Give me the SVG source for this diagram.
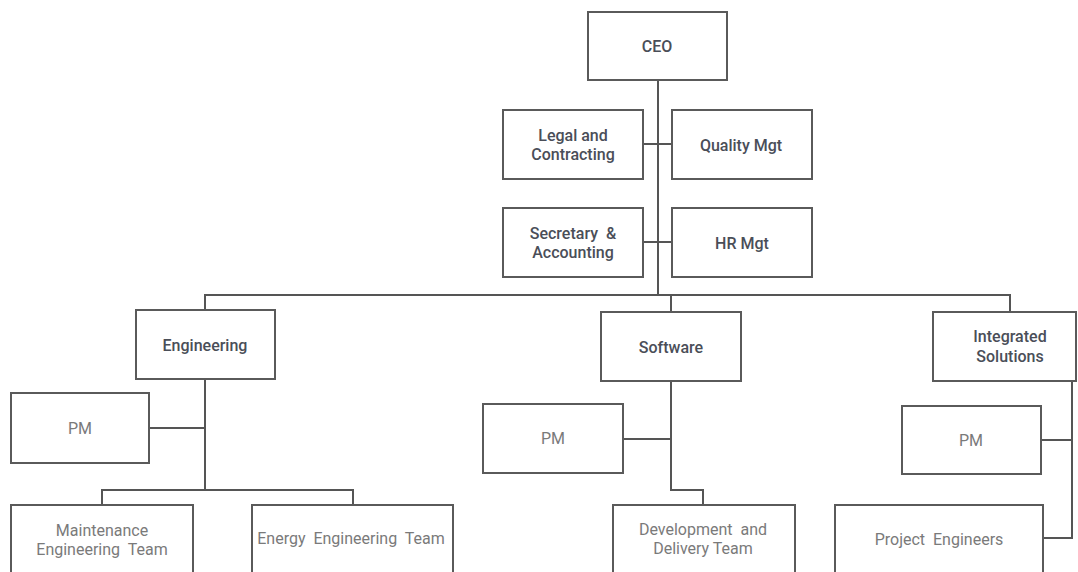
<svg xmlns="http://www.w3.org/2000/svg" width="1078" height="572" viewBox="0 0 1078 572">
  <style>
    .box { fill: #ffffff; stroke: #5a5a5a; stroke-width: 2; }
    .link { fill: none; stroke: #555555; stroke-width: 2; }
    .head { font-family: Roboto, "Liberation Sans", sans-serif; font-size: 16px; font-weight: 500; fill: #4a4e58; text-anchor: middle; dominant-baseline: central; }
    .unit { font-family: Roboto, "Liberation Sans", sans-serif; font-size: 16px; font-weight: 400; fill: #7a7a7a; text-anchor: middle; dominant-baseline: central; }
  </style>
  <rect width="1078" height="572" fill="#ffffff"/>

  <!-- connectors -->
  <g id="connectors" class="link">
    <!-- main trunk from CEO -->
    <path d="M658 80 V295"/>
    <path d="M643 144 H672"/>
    <path d="M643 242 H672"/>
    <!-- division bus -->
    <path d="M205 310 V295 H1010 V312"/>
    <path d="M671 295 V312"/>
    <!-- Engineering branch -->
    <path d="M205 379 V490"/>
    <path d="M149 428 H205"/>
    <path d="M102 505 V490 H353 V505"/>
    <!-- Software branch -->
    <path d="M671 381 V490 H703 V505"/>
    <path d="M623 439 H671"/>
    <!-- Integrated Solutions branch -->
    <path d="M1072 381 V538 H1043"/>
    <path d="M1041 440 H1072"/>
  </g>

  <g id="ceo">
    <rect class="box" x="588" y="12" width="139" height="68"/>
    <text class="head" x="657" y="46">CEO</text>
  </g>
  <g id="legal">
    <rect class="box" x="503" y="110" width="140" height="69"/>
    <text class="head" x="573" y="135">Legal and</text>
    <text class="head" x="573" y="154">Contracting</text>
  </g>
  <g id="quality">
    <rect class="box" x="672" y="110" width="140" height="69"/>
    <text class="head" x="741" y="145">Quality Mgt</text>
  </g>
  <g id="secretary">
    <rect class="box" x="503" y="208" width="140" height="69"/>
    <text class="head" x="573" y="233" xml:space="preserve">Secretary  &amp;</text>
    <text class="head" x="573" y="252">Accounting</text>
  </g>
  <g id="hr">
    <rect class="box" x="672" y="208" width="140" height="69"/>
    <text class="head" x="742" y="243">HR Mgt</text>
  </g>

  <g id="engineering">
    <rect class="box" x="136" y="310" width="139" height="69"/>
    <text class="head" x="205" y="345">Engineering</text>
  </g>
  <g id="software">
    <rect class="box" x="601" y="312" width="140" height="69"/>
    <text class="head" x="671" y="347">Software</text>
  </g>
  <g id="integrated">
    <rect class="box" x="933" y="312" width="143" height="69"/>
    <text class="head" x="1010" y="336">Integrated</text>
    <text class="head" x="1010" y="356">Solutions</text>
  </g>

  <g id="pm-engineering">
    <rect class="box" x="11" y="393" width="138" height="70"/>
    <text class="unit" x="80" y="428">PM</text>
  </g>
  <g id="pm-software">
    <rect class="box" x="483" y="404" width="140" height="69"/>
    <text class="unit" x="553" y="438">PM</text>
  </g>
  <g id="pm-integrated">
    <rect class="box" x="902" y="406" width="139" height="68"/>
    <text class="unit" x="971" y="440">PM</text>
  </g>

  <g id="maintenance">
    <rect class="box" x="11" y="505" width="182" height="80"/>
    <text class="unit" x="102" y="530">Maintenance</text>
    <text class="unit" x="102" y="549" xml:space="preserve">Engineering  Team</text>
  </g>
  <g id="energy">
    <rect class="box" x="252" y="505" width="201" height="80"/>
    <text class="unit" x="351" y="538" xml:space="preserve">Energy  Engineering  Team</text>
  </g>
  <g id="development">
    <rect class="box" x="613" y="505" width="182" height="80"/>
    <text class="unit" x="703" y="529" xml:space="preserve">Development  and</text>
    <text class="unit" x="703" y="548">Delivery Team</text>
  </g>
  <g id="project-engineers">
    <rect class="box" x="835" y="505" width="208" height="80"/>
    <text class="unit" x="939" y="539" xml:space="preserve">Project  Engineers</text>
  </g>
</svg>
